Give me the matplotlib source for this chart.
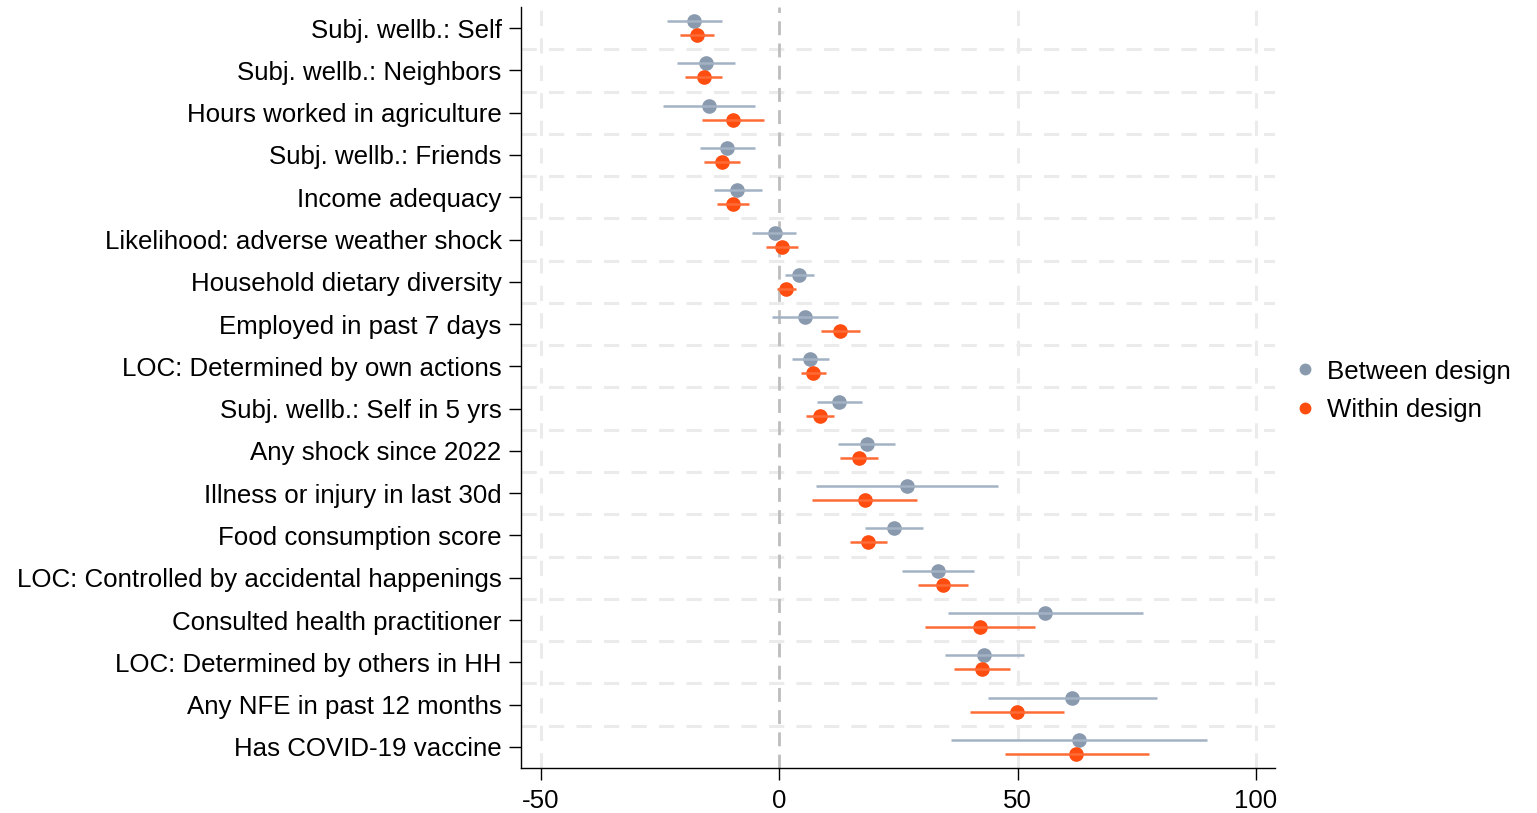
import matplotlib
matplotlib.use("Agg")
import matplotlib.pyplot as plt
from matplotlib.lines import Line2D

plt.rcParams['font.family'] = ['Liberation Sans', 'DejaVu Sans']

labels = [
    "Subj. wellb.: Self",
    "Subj. wellb.: Neighbors",
    "Hours worked in agriculture",
    "Subj. wellb.: Friends",
    "Income adequacy",
    "Likelihood: adverse weather shock",
    "Household dietary diversity",
    "Employed in past 7 days",
    "LOC: Determined by own actions",
    "Subj. wellb.: Self in 5 yrs",
    "Any shock since 2022",
    "Illness or injury in last 30d",
    "Food consumption score",
    "LOC: Controlled by accidental happenings",
    "Consulted health practitioner",
    "LOC: Determined by others in HH",
    "Any NFE in past 12 months",
    "Has COVID-19 vaccine",
]

between_est = [-17.8, -15.3, -14.8, -11.0, -8.8, -1.0, 4.1, 5.3, 6.5, 12.6, 18.3, 26.8, 24.0, 33.2, 55.8, 43.0, 61.5, 62.8]
between_lo = [-23.6, -21.4, -24.4, -16.7, -13.8, -5.7, 1.1, -1.5, 2.7, 7.9, 12.3, 7.8, 17.9, 25.7, 35.4, 34.7, 43.7, 36.1]
between_hi = [-12.1, -9.3, -5.2, -5.1, -3.7, 3.6, 7.3, 12.3, 10.4, 17.4, 24.3, 45.8, 30.1, 40.8, 76.2, 51.4, 79.2, 89.7]

within_est = [-17.3, -15.9, -9.7, -12.1, -9.8, 0.5, 1.4, 12.8, 7.1, 8.5, 16.7, 17.9, 18.7, 34.4, 42.0, 42.5, 49.9, 62.3]
within_lo = [-20.8, -19.7, -16.2, -15.9, -13.0, -2.8, -0.5, 8.8, 4.6, 5.7, 12.8, 6.9, 14.9, 29.1, 30.6, 36.6, 40.1, 47.3]
within_hi = [-13.7, -12.1, -3.3, -8.3, -6.4, 3.9, 3.5, 17.0, 9.8, 11.4, 20.6, 28.9, 22.5, 39.5, 53.6, 48.3, 59.7, 77.5]

xticks = [-50, 0, 50, 100]

W, H = 1537, 813
fig = plt.figure(figsize=(W / 100, H / 100), dpi=100)
ax = fig.add_axes([521/W, 1 - 768/H, (1275-521)/W, (768-7)/H])

n = len(labels)
rows = list(range(n))
off = 0.165

c_bet_dot = "#8A9AAE"
c_bet_line = "#A3B3C4"
c_win_dot = "#FF4C0F"
c_win_line = "#FF6B35"

# gridlines
for xv in [-50, 50, 100]:
    ax.axvline(xv, color="#EBEBEB", lw=2.2, ls=(0, (5, 4)), zorder=0)
for i in range(n - 1):
    ax.axhline(i + 0.5, color="#EBEBEB", lw=2.2, ls=(0, (5, 4)), zorder=0)
ax.axvline(0, color="#BDBDBD", lw=2.0, ls=(0, (5, 3)), zorder=1)

yb = [r - off for r in rows]
yw = [r + off for r in rows]

ax.plot(between_est, yb, 'o', color=c_bet_dot, ms=9.5, zorder=3, mec=c_bet_dot)
ax.hlines(yb, between_lo, between_hi, color=c_bet_line, lw=1.8, zorder=4)
ax.plot(within_est, yw, 'o', color=c_win_dot, ms=9.5, zorder=3, mec=c_win_dot)
ax.hlines(yw, within_lo, within_hi, color=c_win_line, lw=1.8, zorder=4)

FS = 18.6
ax.set_ylim(n - 0.5, -0.5)
ax.set_xlim(-54.2, 104.0)
ax.set_yticks(rows)
ax.set_yticklabels(labels, fontsize=FS)
ax.set_xticks(xticks)
ax.set_xticklabels([str(v) for v in xticks], fontsize=FS)
ax.tick_params(axis='y', length=8.5, width=1.0, pad=5.5)
ax.tick_params(axis='x', length=8.5, width=1.0, pad=6.5)

for s in ['top', 'right']:
    ax.spines[s].set_visible(False)
for s in ['left', 'bottom']:
    ax.spines[s].set_linewidth(1.0)

handles = [
    Line2D([], [], marker='o', ls='none', color=c_bet_dot, ms=7.5),
    Line2D([], [], marker='o', ls='none', color=c_win_dot, ms=7.5),
]
fig.legend(handles, ["Between design", "Within design"], loc='center left',
           bbox_to_anchor=(1292/W, 1 - 391/H), frameon=False, fontsize=FS,
           handletextpad=0.37, labelspacing=0.58, handlelength=1.0, borderpad=0,
           borderaxespad=0)

fig.savefig("out.png", dpi=100)
